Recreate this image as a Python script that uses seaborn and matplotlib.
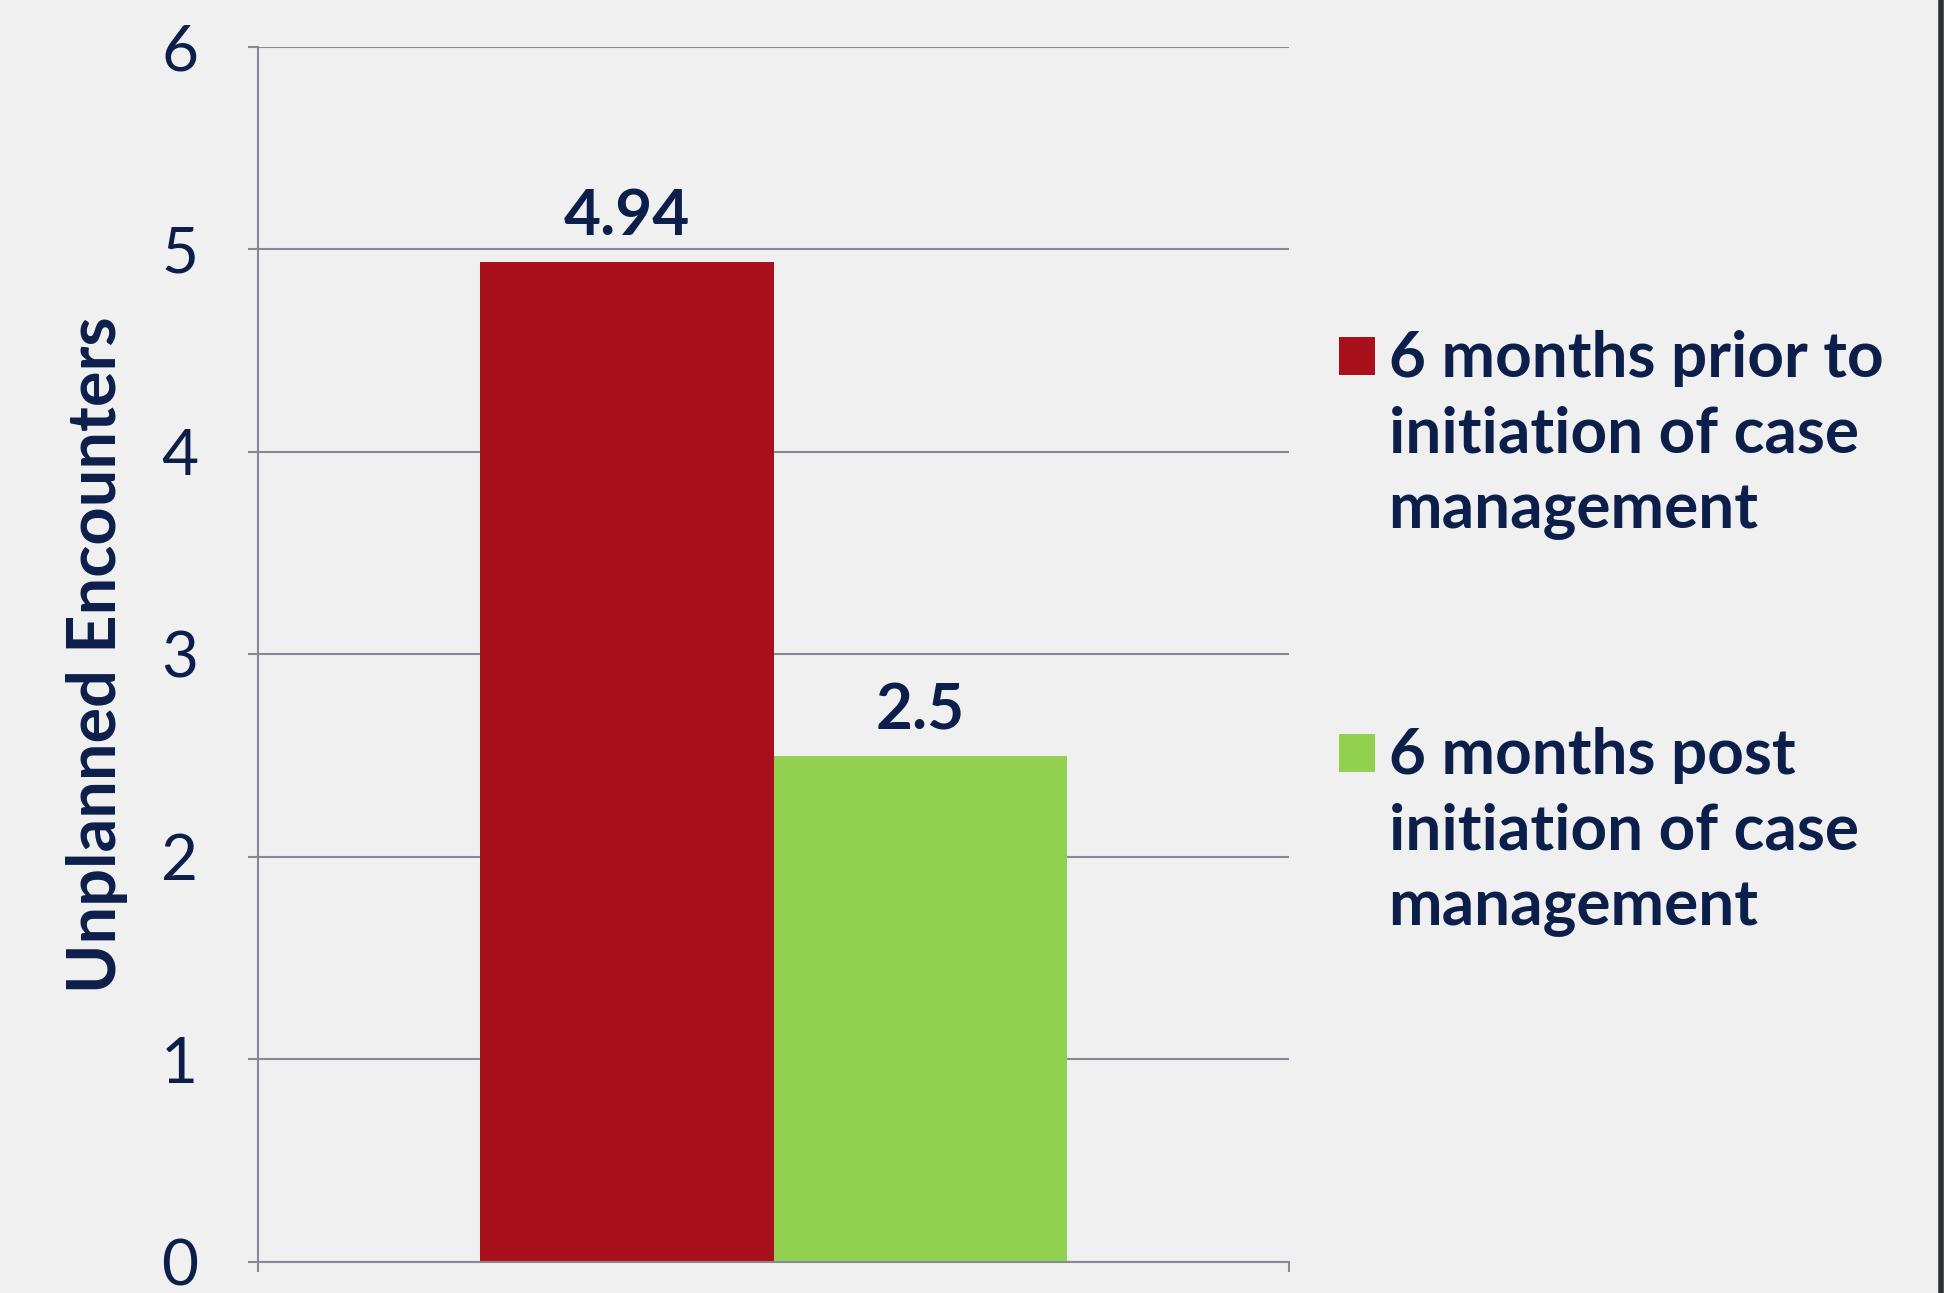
import matplotlib
matplotlib.use("Agg")
import matplotlib.pyplot as plt
import seaborn as sns
import pandas as pd
from matplotlib.patches import Rectangle
from matplotlib.legend_handler import HandlerPatch
from matplotlib.lines import Line2D

# data
periods = ["6 months prior to\ninitiation of case\nmanagement",
           "6 months post\ninitiation of case\nmanagement"]
encounters = [4.94, 2.5]
group = ["All", "All"]
yticks = [0, 1, 2, 3, 4, 5, 6]

navy = "#0C1E4A"
grey = "#878A96"
bg = "#F0F0F0"
colors = ["#A8111C", "#92D050"]

sns.set_theme(style="white")
plt.rcParams["font.family"] = ["Lato", "DejaVu Sans"]

df = pd.DataFrame({"group": group, "value": encounters, "period": periods})

fig = plt.figure(figsize=(19.44, 12.93), dpi=100, facecolor=bg)
ax = fig.add_axes([0.1327, 0.024, 0.5304, 0.9397])
ax.set_facecolor(bg)

sns.barplot(data=df, x="group", y="value", hue="period", palette=colors,
            width=0.57, saturation=1, linewidth=0, ax=ax, legend=True)

for cont in ax.containers:
    ax.bar_label(cont, fmt="%g", padding=12, fontsize=46, fontweight="bold", color=navy)

ax.set_ylim(0, 6)
ax.set_xlim(-0.5, 0.5)
ax.set_yticks(yticks)
ax.set_yticklabels([str(t) for t in yticks], fontsize=46, fontweight="normal", color=navy)
ax.set_xticks([-0.5, 0.5])
ax.set_xticklabels(["", ""])
ax.set_xlabel("")
ax.set_ylabel("Unplanned Encounters", fontsize=48, fontweight="bold", color=navy)
ax.yaxis.set_label_coords(-0.126, 0.5)

ax.yaxis.grid(True, color=grey, linewidth=1.5)
ax.set_axisbelow(True)
for s in ["top", "right"]:
    ax.spines[s].set_visible(False)
for s in ["left", "bottom"]:
    ax.spines[s].set_color(grey)
    ax.spines[s].set_linewidth(1.5)
ax.tick_params(axis="y", direction="out", length=7, width=1.5, color=grey,
               labelcolor=navy, pad=36, left=True)
ax.tick_params(axis="x", direction="out", length=7, width=1.5, color=grey, bottom=True)


def top_square(legend, orig_handle, xdescent, ydescent, width, height, fontsize):
    # keep the square on the first line of a three-line label
    return Rectangle((-xdescent, -ydescent + fontsize * 1.25), width, height)


handles, labels = ax.get_legend_handles_labels()
leg = ax.legend(handles, labels, loc="upper left", bbox_to_anchor=(0.689, 0.745),
                bbox_transform=fig.transFigure, frameon=False,
                prop={"weight": "bold", "size": 46}, labelcolor=navy,
                handlelength=0.55, handleheight=0.55, handletextpad=0.22,
                labelspacing=2.92, borderpad=0, borderaxespad=0,
                handler_map={Rectangle: HandlerPatch(patch_func=top_square)})
for t in leg.get_texts():
    t.set_linespacing(1.4)

fig.add_artist(Line2D([0.9985, 0.9985], [0, 1], transform=fig.transFigure,
                      color="#2B2F36", linewidth=4))

fig.savefig("out.png", dpi=100, facecolor=bg)
